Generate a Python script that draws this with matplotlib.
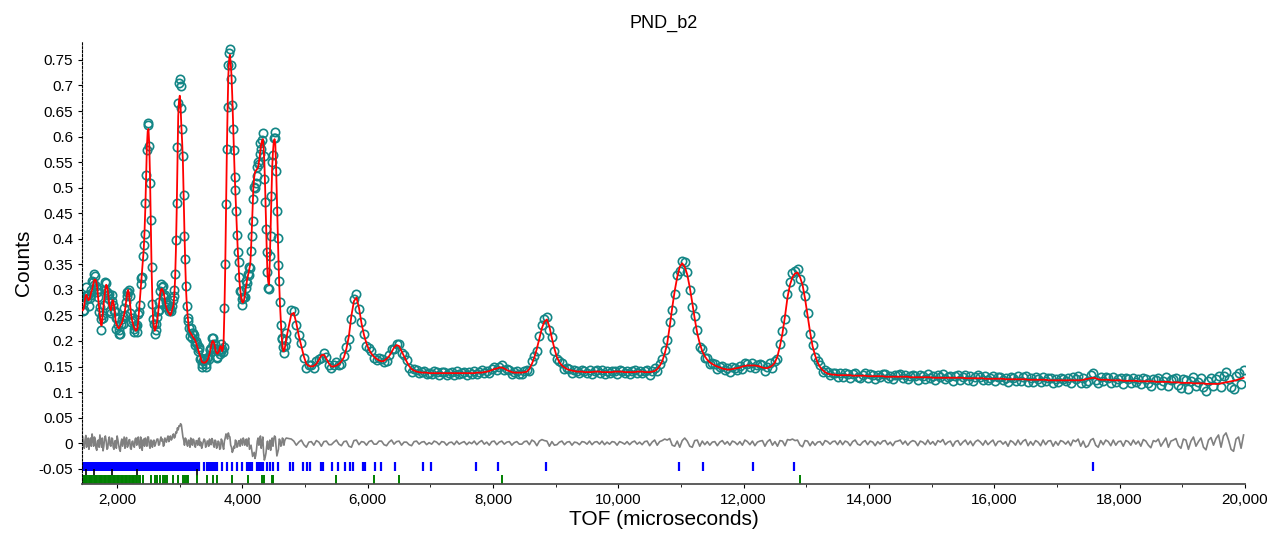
import numpy as np
import matplotlib
matplotlib.use('Agg')
import matplotlib.pyplot as plt
from matplotlib.ticker import MultipleLocator, FuncFormatter

plt.rcParams['font.family'] = ['Liberation Sans', 'DejaVu Sans']

# TOF sampling: finer over the crowded low-TOF part, coarser after
tof_fine = np.arange(1450, 4700.1, 12.5)
tof_coarse = np.arange(4780, 19981, 40)

# calculated profile (red)
calc_fine = [
    0.26, 0.262, 0.27, 0.282, 0.29, 0.29, 0.285, 0.28, 0.28, 0.283,
    0.29, 0.296, 0.30, 0.308, 0.315, 0.32, 0.32, 0.318, 0.31, 0.298,
    0.28, 0.265, 0.25, 0.238, 0.23, 0.24, 0.26, 0.276, 0.29, 0.302,
    0.31, 0.308, 0.30, 0.285, 0.27, 0.263, 0.26, 0.268, 0.28, 0.278,
    0.27, 0.255, 0.24, 0.233, 0.23, 0.226, 0.225, 0.226, 0.23, 0.232,
    0.235, 0.24, 0.245, 0.252, 0.26, 0.272, 0.285, 0.295, 0.30, 0.293,
    0.28, 0.265, 0.25, 0.241, 0.235, 0.229, 0.225, 0.222, 0.22, 0.221,
    0.225, 0.24, 0.26, 0.28, 0.30, 0.32, 0.34, 0.36, 0.38, 0.415,
    0.46, 0.52, 0.58, 0.61, 0.615, 0.585, 0.52, 0.43, 0.34, 0.28,
    0.24, 0.228, 0.22, 0.223, 0.23, 0.238, 0.25, 0.265, 0.28, 0.292,
    0.30, 0.302, 0.30, 0.296, 0.29, 0.28, 0.27, 0.264, 0.26, 0.257,
    0.255, 0.252, 0.25, 0.253, 0.26, 0.265, 0.27, 0.29, 0.32, 0.375,
    0.45, 0.55, 0.64, 0.67, 0.68, 0.66, 0.62, 0.59, 0.55, 0.48,
    0.41, 0.35, 0.30, 0.27, 0.25, 0.233, 0.22, 0.217, 0.215, 0.212,
    0.21, 0.207, 0.205, 0.203, 0.20, 0.195, 0.19, 0.185, 0.18, 0.175,
    0.17, 0.165, 0.16, 0.158, 0.158, 0.157, 0.158, 0.158, 0.16, 0.162,
    0.165, 0.17, 0.175, 0.182, 0.19, 0.197, 0.20, 0.199, 0.195, 0.188,
    0.18, 0.176, 0.175, 0.177, 0.18, 0.186, 0.19, 0.187, 0.18, 0.185,
    0.20, 0.26, 0.34, 0.45, 0.56, 0.65, 0.72, 0.75, 0.76, 0.745,
    0.72, 0.68, 0.63, 0.58, 0.53, 0.49, 0.45, 0.415, 0.38, 0.35,
    0.32, 0.303, 0.29, 0.28, 0.275, 0.276, 0.28, 0.29, 0.30, 0.31,
    0.32, 0.328, 0.335, 0.342, 0.35, 0.38, 0.42, 0.46, 0.50, 0.52,
    0.53, 0.533, 0.535, 0.537, 0.54, 0.55, 0.56, 0.573, 0.585, 0.592,
    0.595, 0.58, 0.55, 0.50, 0.44, 0.38, 0.33, 0.315, 0.31, 0.36,
    0.42, 0.48, 0.54, 0.57, 0.59, 0.595, 0.585, 0.54, 0.48, 0.42,
    0.36, 0.31, 0.27, 0.238, 0.21, 0.193, 0.18, 0.18, 0.185, 0.194,
    0.205,
]
calc_coarse = [
    # 4780 - 6780
    0.252, 0.255, 0.235, 0.21, 0.19, 0.17, 0.155, 0.151, 0.15, 0.151,
    0.155, 0.163, 0.172, 0.173, 0.165, 0.156, 0.15, 0.15, 0.152, 0.155,
    0.16, 0.168, 0.185, 0.21, 0.25, 0.278, 0.285, 0.265, 0.235, 0.212,
    0.195, 0.183, 0.175, 0.169, 0.165, 0.162, 0.16, 0.161, 0.165, 0.17,
    0.178, 0.187, 0.192, 0.19, 0.18, 0.17, 0.16, 0.151, 0.145, 0.142,
    0.14,
    # 6820 - 7940
    0.139, 0.138, 0.138, 0.138, 0.137, 0.137, 0.137, 0.137, 0.137, 0.137,
    0.137, 0.137, 0.137, 0.137, 0.137, 0.137, 0.137, 0.137, 0.137, 0.137,
    0.137, 0.137, 0.137, 0.138, 0.138, 0.138, 0.139, 0.14, 0.141,
    # 7980 - 9340
    0.143, 0.145, 0.146, 0.148, 0.148, 0.146, 0.143, 0.141, 0.139, 0.138,
    0.138, 0.138, 0.138, 0.139, 0.14, 0.145, 0.155, 0.168, 0.185, 0.205,
    0.225, 0.238, 0.242, 0.228, 0.205, 0.185, 0.168, 0.158, 0.152, 0.148,
    0.145, 0.143, 0.142, 0.141, 0.14,
    # 9380 - 10580
    0.14, 0.14, 0.139, 0.139, 0.139, 0.139, 0.14, 0.14, 0.14, 0.139,
    0.139, 0.139, 0.139, 0.139, 0.14, 0.14, 0.14, 0.14, 0.139, 0.139,
    0.139, 0.139, 0.139, 0.14, 0.14, 0.14, 0.139, 0.139, 0.139, 0.14,
    0.141,
    # 10620 - 13500
    0.145, 0.151, 0.16, 0.175, 0.195, 0.228, 0.265, 0.298, 0.325, 0.345,
    0.352, 0.345, 0.33, 0.305, 0.275, 0.243, 0.215, 0.195, 0.18, 0.17,
    0.163, 0.158, 0.155, 0.152, 0.15, 0.148, 0.146, 0.145, 0.144, 0.144,
    0.145, 0.146, 0.147, 0.148, 0.15, 0.151, 0.152, 0.152, 0.152, 0.152,
    0.151, 0.15, 0.148, 0.147, 0.147, 0.149, 0.152, 0.158, 0.17, 0.19,
    0.215, 0.248, 0.285, 0.31, 0.325, 0.332, 0.334, 0.325, 0.31, 0.283,
    0.25, 0.218, 0.19, 0.172, 0.158, 0.149, 0.143, 0.139, 0.136, 0.135,
    0.134, 0.134, 0.133,
    # 13540 - 19980
    0.133, 0.133, 0.133, 0.133, 0.133, 0.132, 0.132, 0.132, 0.132, 0.132,
    0.132, 0.131, 0.131, 0.131, 0.131, 0.131, 0.131, 0.131, 0.130, 0.130,
    0.130, 0.130, 0.130, 0.130, 0.130,
    0.130, 0.130, 0.130, 0.129, 0.129, 0.129, 0.129, 0.129, 0.129, 0.129,
    0.129, 0.129, 0.128, 0.128, 0.128, 0.128, 0.128, 0.128, 0.128, 0.128,
    0.128, 0.128, 0.128, 0.128, 0.128,
    0.127, 0.127, 0.127, 0.127, 0.127, 0.127, 0.127, 0.127, 0.126, 0.126,
    0.126, 0.126, 0.126, 0.126, 0.126, 0.126, 0.125, 0.125, 0.125, 0.125,
    0.125, 0.125, 0.125, 0.125, 0.125,
    0.124, 0.124, 0.124, 0.124, 0.124, 0.124, 0.124, 0.124, 0.123, 0.123,
    0.123, 0.123, 0.123, 0.123, 0.123, 0.123, 0.123, 0.123, 0.123, 0.123,
    0.123, 0.123, 0.124, 0.125, 0.126, 0.127, 0.128, 0.127, 0.125,
    0.124, 0.124, 0.124, 0.124, 0.123, 0.123, 0.123, 0.123, 0.123, 0.122,
    0.122, 0.122, 0.122, 0.122, 0.122, 0.121, 0.121, 0.121, 0.121, 0.121,
    0.121, 0.121, 0.120, 0.120, 0.120, 0.120, 0.120, 0.120,
    0.119, 0.119, 0.119, 0.119, 0.118, 0.118, 0.118, 0.118, 0.118, 0.117,
    0.117, 0.117, 0.117, 0.117, 0.116, 0.116, 0.116, 0.116, 0.116, 0.116,
    0.117, 0.118, 0.119, 0.120, 0.121, 0.122, 0.123, 0.125, 0.126, 0.128,
]

# difference curve (obs - calc), grey trace around zero
diff_fine = [
    0.012, -0.004, -0.010, 0.006, 0.015, -0.008, 0.004, 0.010, -0.012, 0.002,
    0.010, -0.006, 0.018, 0.008, -0.006, 0.012, 0.008, -0.010, -0.014, 0.004,
    0.006, -0.008, 0.016, 0.004, -0.008, 0.010, -0.015, -0.006, 0.010, 0.014,
    0.004, -0.012, -0.010, 0.006, 0.012, -0.004, -0.006, 0.010, 0.009, -0.008,
    -0.012, 0.004, 0.005, -0.010, 0.014, 0.006, -0.004, -0.012, -0.016, 0.002,
    0.008, -0.006, 0.003, 0.012, -0.010, 0.004, 0.011, -0.008, -0.005, 0.006,
    0.007, -0.010, -0.012, 0.003, 0.004, -0.006, -0.008, 0.008, 0.010, -0.004,
    0.006, 0.012, -0.004, -0.010, 0.012, 0.004, -0.014, 0.006, 0.008, -0.006,
    0.010, 0.004, -0.006, 0.012, 0.012, -0.004, -0.010, 0.006, 0.005, -0.008,
    0.002, 0.006, -0.006, -0.002, 0.004, 0.008, 0.008, -0.004, -0.003, 0.006,
    0.012, 0.004, 0.008, -0.006, -0.004, 0.010, 0.006, 0.002, 0.010, 0.014,
    0.003, 0.010, 0.014, 0.006, 0.008, 0.016, 0.018, 0.010, 0.012, 0.022,
    0.020, 0.030, 0.026, 0.034, 0.033, 0.038, 0.036, 0.024, 0.012, 0.006,
    -0.004, 0.010, 0.008, -0.002, -0.006, 0.006, 0.005, -0.008, 0.010, 0.004,
    -0.004, 0.008, 0.006, -0.006, -0.008, 0.005, 0.004, -0.004, 0.008, 0.010,
    -0.005, 0.002, -0.010, -0.004, 0.003, 0.008, 0.006, -0.008, -0.006, 0.004,
    0.004, -0.006, 0.008, 0.002, -0.003, 0.009, 0.006, -0.004, -0.008, 0.006,
    0.004, -0.010, -0.006, 0.004, 0.002, -0.012, -0.010, 0.008, 0.005, -0.006,
    -0.012, 0.004, 0.010, 0.018, 0.015, 0.008, 0.020, 0.014, 0.012, -0.004,
    -0.008, -0.018, -0.015, -0.006, -0.010, 0.006, 0.004, -0.008, -0.006, 0.004,
    0.005, -0.006, 0.008, 0.002, -0.004, 0.010, 0.006, -0.004, 0.003, 0.008,
    -0.006, 0.004, 0.010, -0.012, -0.008, -0.004, -0.015, -0.026, -0.022, -0.018,
    -0.030, -0.024, -0.012, 0.004, 0.010, -0.004, 0.006, 0.014, -0.010, 0.002,
    0.012, -0.018, -0.033, -0.028, -0.020, -0.006, 0.004, -0.012, -0.008, 0.006,
    -0.014, 0.004, 0.010, -0.006, 0.008, 0.014, 0.012, -0.008, -0.025, -0.018,
    -0.012, 0.008, 0.006, -0.006, -0.004, 0.010, 0.008, -0.004, 0.005, 0.008,
    0.010,
]
diff_coarse = [
    0.008, 0.004, -0.004, 0.002, 0.006, -0.003, -0.008, 0.002, 0.003, -0.004,
    0.005, 0.002, -0.006, 0.003, 0.004, -0.003, -0.003, 0.002, 0.006, -0.002,
    -0.005, 0.003, 0.004, -0.006, -0.008, 0.005, 0.006, -0.003, 0.003, 0.002,
    -0.004, 0.003, 0.005, -0.002, -0.002, 0.004, 0.004, -0.003, -0.005, 0.002,
    0.006, -0.002, 0.003, 0.004, -0.004, 0.002, 0.002, -0.003, -0.005, 0.003,
    0.004, -0.002, 0.002, 0.003, -0.003, 0.001, -0.002, 0.004, 0.002, -0.003,
    0.003, 0.002, -0.004, 0.001, 0.002, -0.003, 0.004, -0.002, 0.001, 0.003,
    -0.003, 0.002, -0.001, 0.004, -0.003, 0.002, 0.005, -0.002, 0.002, -0.004,
    0.003, 0.004, -0.003, 0.002, 0.004, -0.002, 0.002, 0.003, -0.004, 0.001,
    0.003, -0.002, -0.002, 0.003, 0.004, -0.003, 0.006, 0.003, -0.005, 0.004,
    0.007, 0.005, 0.004, -0.006, 0.003, -0.004, -0.003, 0.002, 0.004, -0.003,
    0.002, 0.003, -0.004, 0.002, 0.001, -0.003, 0.003, 0.002, -0.002, 0.004,
    -0.003, 0.002, 0.003, -0.002, 0.004, -0.003, 0.002, -0.002, 0.003, 0.002,
    -0.004, 0.003, 0.001, -0.002, 0.003, -0.003, 0.002, 0.004, -0.002, 0.002,
    -0.003, 0.003, 0.004, -0.005, 0.002, 0.006, -0.004, 0.003, 0.005, 0.008,
    0.006, 0.009, -0.004, -0.006, 0.004, -0.008, 0.005, 0.010, 0.004, -0.006,
    -0.008, 0.005, 0.006, -0.006, 0.004, -0.003, 0.003, -0.004, 0.002, 0.003,
    -0.005, 0.002, 0.005, -0.002, 0.003, -0.004, 0.004, 0.002, -0.003, 0.003,
    -0.004, 0.006, 0.003, -0.003, 0.004, -0.005, 0.002, 0.004, 0.005, -0.006,
    0.003, 0.007, -0.004, 0.003, -0.006, 0.005, 0.004, -0.005, 0.007, 0.006,
    0.008, 0.005, 0.006, -0.004, -0.007, 0.005, 0.004, -0.005, 0.003, -0.004,
    0.002, 0.003, -0.004, 0.005, 0.003, -0.002, 0.003, 0.004, -0.003, 0.005,
    -0.003, 0.004, 0.002, -0.005, 0.003, 0.006, -0.002, -0.004, 0.002, 0.005,
    -0.003, 0.004, 0.002, -0.005, 0.003, -0.002, 0.004, 0.005, -0.003, 0.002,
    -0.005, 0.003, 0.004, 0.006, -0.002, 0.004, -0.004, 0.002, 0.005, 0.003,
    -0.005, 0.004, 0.002, -0.003, 0.006, -0.002, 0.003, -0.004, 0.005, 0.002,
    0.007, -0.003, 0.002, 0.004, -0.006, 0.003, 0.005, -0.004, 0.002, 0.006,
    -0.003, 0.004, -0.005, 0.003, 0.006, 0.002, -0.004, 0.005, -0.003, 0.002,
    0.006, -0.005, 0.003, 0.004, -0.002, 0.003, -0.006, 0.005, 0.002, -0.004,
    0.006, -0.003, 0.004, 0.007, -0.005, 0.003, -0.004, 0.005, 0.002, -0.005,
    0.006, -0.003, 0.004, 0.005, -0.006, 0.003, -0.004, 0.005, 0.003, -0.002,
    0.004, -0.005, 0.006, 0.003, 0.008, -0.006, 0.004, -0.008, -0.005, 0.006,
    0.009, -0.004, -0.008, 0.005, -0.003, 0.006, 0.003, -0.005, 0.006, -0.004,
    0.003, 0.004, -0.006, 0.005, 0.003, -0.004, 0.006, -0.002, 0.004, -0.006,
    0.007, 0.004, -0.004, -0.009, 0.005, 0.003, 0.008, -0.006, 0.002, 0.010,
    -0.008, 0.004, 0.006, 0.009, -0.005, -0.010, 0.008, 0.006, -0.012, 0.004,
    0.012, -0.006, 0.003, 0.010, -0.008, -0.013, 0.006, 0.011, -0.004, 0.009,
    0.016, -0.008, 0.014, 0.020, 0.006, -0.012, -0.016, 0.008, 0.012, -0.010,
    0.016,
]

# reflection markers for the three phases
hkl_blue = [
    1448, 1462, 1480, 1495, 1513, 1530, 1548, 1561, 1580, 1597, 1615, 1633,
    1650, 1668, 1684, 1703, 1720, 1738, 1755, 1772, 1790, 1808, 1826, 1843,
    1860, 1878, 1897, 1915, 1932, 1950, 1968, 1986, 2004, 2022, 2040, 2058,
    2077, 2095, 2113, 2131, 2150, 2168, 2187, 2206, 2224, 2243, 2262, 2281,
    2300, 2320, 2339, 2358, 2378, 2398, 2418, 2438, 2458, 2478, 2499, 2520,
    2541, 2562, 2583, 2605, 2627, 2649, 2671, 2694, 2717, 2740, 2763, 2787,
    2811, 2835, 2860, 2885, 2910, 2936, 2962, 2988, 3015, 3042, 3070, 3098,
    3127, 3156, 3186, 3216, 3247, 3278, 3310,
    3387, 3440, 3470, 3500, 3535, 3565, 3590, 3669, 3748, 3828, 3908, 3987,
    4067, 4095, 4120, 4147, 4227, 4255, 4280, 4310, 4333, 4386, 4439, 4492,
    4572, 4758, 4811, 4970, 5023, 5076, 5262, 5289, 5422, 5528, 5634, 5714,
    5767, 5926, 5953, 6113, 6219, 6432, 6882, 7016, 7734, 8079, 8838, 10963,
    11346, 12143, 12807, 17573,
]
hkl_black = [1506, 1623, 1915, 2314, 3270]
hkl_green = [
    1446, 1466, 1486, 1505, 1525, 1545, 1565, 1584, 1604, 1624, 1644, 1664,
    1684, 1704, 1724, 1745, 1765, 1785, 1806, 1826, 1847, 1867, 1888, 1909,
    1930, 1951, 1972, 1993, 2014, 2035, 2057, 2078, 2100, 2121, 2143, 2165,
    2187, 2209, 2231, 2253, 2276, 2298, 2321, 2344, 2367,
    2420, 2537, 2606, 2643, 2685, 2728, 2765, 2802, 2888, 2977, 3057, 3080,
    3110, 3137, 3280, 3430, 3535, 3589, 3828, 4093, 4306, 4348, 4466, 4492,
    5501, 6102, 6500, 8148, 12903,
]

tof = np.concatenate([tof_fine, tof_coarse])
calc = np.array(calc_fine + calc_coarse)
diff = np.array(diff_fine + diff_coarse)
assert len(tof) == len(calc) == len(diff), (len(tof), len(calc), len(diff))
obs = calc + diff

fig = plt.figure(figsize=(12.82, 5.39), dpi=100)
ax = fig.add_axes([0.064, 0.102, 0.907, 0.820])

ax.plot(tof, obs, ls='none', marker='o', ms=6, mfc='none',
        mec='#138686', mew=1.2, zorder=2)
ax.plot(tof, calc, color='red', lw=1.3, zorder=3)
ax.plot(tof, diff, color='#808080', lw=1.2, zorder=2)

ax.vlines(hkl_blue, -0.055, -0.037, color='blue', lw=1.6)
ax.vlines(hkl_black, -0.064, -0.051, color='black', lw=1.2)
ax.vlines(hkl_green, -0.080, -0.062, color='green', lw=1.4)

ax.set_xlim(1440, 20000)
ax.set_ylim(-0.08, 0.785)

ax.xaxis.set_major_locator(MultipleLocator(2000))
ax.xaxis.set_minor_locator(MultipleLocator(1000))
ax.xaxis.set_major_formatter(FuncFormatter(lambda v, p: f'{v:,.0f}'))
ax.set_yticks(np.arange(-0.05, 0.76, 0.05))
ax.yaxis.set_major_formatter(FuncFormatter(lambda v, p: f'{round(v, 2):g}'))

ax.tick_params(labelsize=11, length=3, width=0.8)
ax.tick_params(which='minor', length=2)

for s in ['top', 'right']:
    ax.spines[s].set_visible(False)
ax.spines['left'].set_linestyle((0, (2, 1.5)))
ax.spines['left'].set_color('black')
ax.spines['bottom'].set_color('#505050')
ax.spines['bottom'].set_linewidth(1.3)

ax.set_title('PND_b2', fontsize=13, pad=10)
ax.set_xlabel('TOF (microseconds)', fontsize=15, labelpad=2)
ax.set_ylabel('Counts', fontsize=15, labelpad=4)

fig.savefig('out.png', dpi=100)
